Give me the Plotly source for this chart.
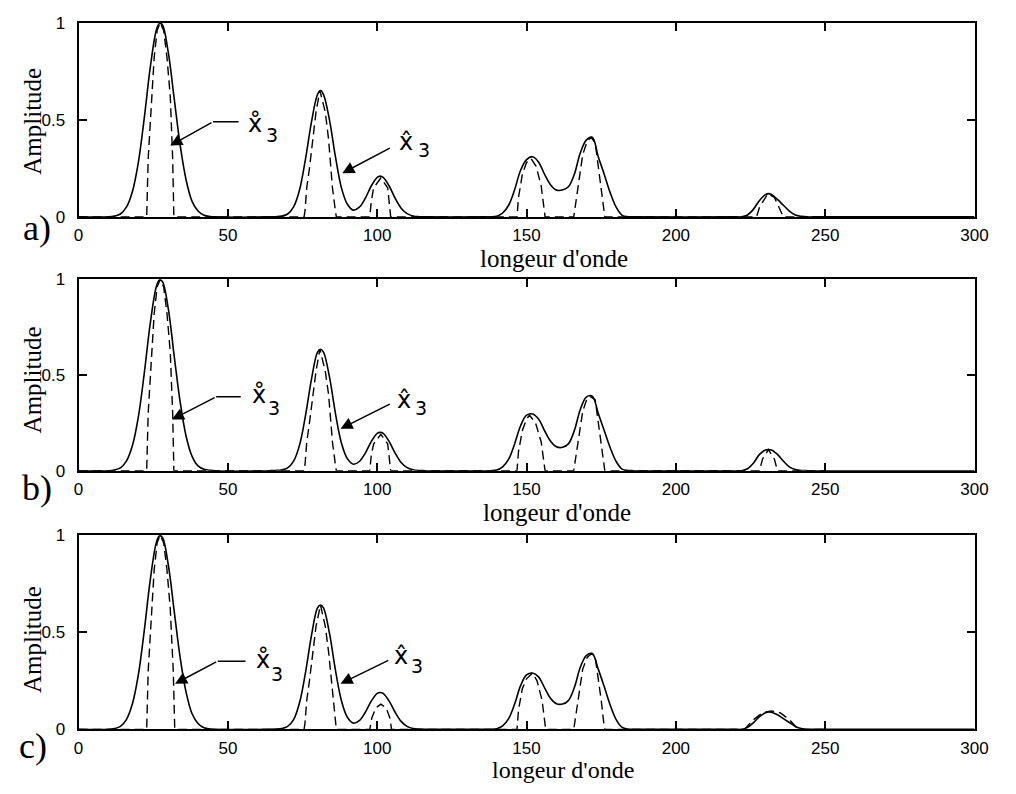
import plotly.graph_objects as go

# ---------------- data ----------------
X_SOLID = ([0, 10, 12, 14, 16, 18, 20, 22, 24, 26, 27, 28, 30, 32, 34, 36, 38, 40, 42, 44, 46]
           + [64, 66, 68, 70, 72, 74, 76, 78, 80, 81, 82, 84, 86, 88, 90, 92, 94, 96, 98, 100,
              101, 102, 104, 106, 108, 110, 112, 114, 116]
           + [136, 138, 140, 142, 144, 146, 148, 150, 152, 154, 156, 158, 160, 162, 164, 166,
              168, 170, 172, 174, 176, 178, 180, 182, 184, 186]
           + [220, 222, 224, 226, 228, 230, 231, 232, 234, 236, 238, 240, 242, 244, 246, 300])

SOLID_A = ([0, 0, 0.004, 0.015, 0.05, 0.13, 0.28, 0.51, 0.77, 0.96, 0.995, 0.99, 0.85, 0.61, 0.37,
            0.19, 0.08, 0.03, 0.008, 0.002, 0]
           + [0, 0.001, 0.004, 0.015, 0.052, 0.14, 0.30, 0.49, 0.63, 0.65, 0.63, 0.50, 0.31, 0.15,
              0.065, 0.035, 0.05, 0.096, 0.159, 0.203, 0.21, 0.203, 0.159, 0.096, 0.045, 0.017,
              0.005, 0.001, 0]
           + [0, 0, 0.003, 0.02, 0.06, 0.14, 0.24, 0.295, 0.31, 0.283, 0.22, 0.166, 0.138, 0.138,
              0.155, 0.22, 0.33, 0.395, 0.41, 0.31, 0.22, 0.125, 0.05, 0.008, 0.001, 0]
           + [0, 0, 0.01, 0.04, 0.085, 0.115, 0.12, 0.115, 0.09, 0.06, 0.03, 0.01, 0.003, 0, 0, 0])

SOLID_B = ([0, 0, 0.004, 0.015, 0.05, 0.13, 0.28, 0.51, 0.77, 0.96, 0.995, 0.99, 0.85, 0.60, 0.36,
            0.18, 0.075, 0.025, 0.007, 0.002, 0]
           + [0, 0.001, 0.004, 0.015, 0.05, 0.135, 0.29, 0.48, 0.62, 0.635, 0.62, 0.49, 0.30, 0.145,
              0.063, 0.034, 0.048, 0.092, 0.152, 0.195, 0.2, 0.195, 0.152, 0.092, 0.043, 0.016,
              0.005, 0.001, 0]
           + [0, 0, 0.003, 0.02, 0.06, 0.14, 0.235, 0.29, 0.296, 0.27, 0.21, 0.155, 0.125, 0.122,
              0.14, 0.21, 0.32, 0.385, 0.39, 0.30, 0.21, 0.12, 0.048, 0.008, 0.001, 0]
           + [0, 0, 0.01, 0.04, 0.085, 0.108, 0.11, 0.108, 0.085, 0.05, 0.02, 0.006, 0.001, 0, 0, 0])

SOLID_C = ([0, 0, 0.004, 0.015, 0.05, 0.13, 0.28, 0.51, 0.77, 0.96, 0.995, 0.99, 0.85, 0.61, 0.37,
            0.19, 0.08, 0.03, 0.008, 0.002, 0]
           + [0, 0.001, 0.004, 0.015, 0.05, 0.138, 0.295, 0.485, 0.625, 0.64, 0.625, 0.495, 0.305,
              0.148, 0.062, 0.032, 0.045, 0.088, 0.145, 0.185, 0.19, 0.185, 0.145, 0.088, 0.041,
              0.015, 0.004, 0.001, 0]
           + [0, 0, 0.003, 0.018, 0.055, 0.13, 0.225, 0.28, 0.29, 0.27, 0.215, 0.16, 0.132, 0.13,
              0.148, 0.215, 0.32, 0.38, 0.39, 0.31, 0.22, 0.125, 0.05, 0.01, 0.001, 0]
           + [0, 0, 0.01, 0.035, 0.065, 0.085, 0.09, 0.088, 0.075, 0.055, 0.035, 0.015, 0.004, 0, 0, 0])

X_DASH_A = [0, 22.8, 23.3, 24.5, 25.3, 26.3, 27.3, 28.5, 29.6, 30.7, 31.5, 31.9,
            75.5, 75.8, 76.4, 77.3, 78.4, 79.5, 80.8, 82.6, 83.7, 84.4, 85.0, 86.0, 86.3,
            97.5, 98.0, 98.8, 101.2, 103.5, 104.0, 104.5,
            146.8, 147.3, 148.6, 150.0, 151.5, 153.2, 154.9, 155.8, 156.2,
            165.8, 166.3, 167.6, 168.8, 170.3, 171.6, 173.0, 173.8, 174.9, 175.8, 176.2,
            227.0, 228.0, 230.8, 233.0, 234.5, 236.0, 256]
Y_DASH_A = [0, 0, 0.3, 0.62, 0.82, 0.96, 1.0, 0.96, 0.82, 0.62, 0.3, 0,
            0, 0.03, 0.15, 0.25, 0.40, 0.54, 0.65, 0.54, 0.40, 0.25, 0.15, 0.03, 0,
            0, 0.08, 0.15, 0.2, 0.15, 0.08, 0,
            0, 0.1, 0.22, 0.28, 0.30, 0.26, 0.16, 0.05, 0,
            0, 0.05, 0.18, 0.32, 0.39, 0.41, 0.38, 0.28, 0.15, 0.04, 0,
            0, 0.05, 0.12, 0.1, 0.05, 0, 0]

X_DASH_B = [0, 22.8, 23.3, 24.5, 25.3, 26.3, 27.3, 28.5, 29.6, 30.7, 31.5, 31.9,
            75.5, 75.8, 76.4, 77.3, 78.4, 79.5, 80.8, 82.6, 83.7, 84.4, 85.0, 86.0, 86.3,
            97.5, 98.0, 98.8, 101.2, 103.5, 104.0, 104.5,
            146.8, 147.3, 148.6, 150.0, 151.0, 153.0, 154.9, 155.8, 156.2,
            165.8, 166.3, 167.6, 168.8, 170.3, 171.2, 173.0, 173.8, 174.9, 175.8, 176.2,
            228.0, 229.0, 231.0, 233.0, 234.0, 250]
Y_DASH_B = [0, 0, 0.3, 0.62, 0.82, 0.96, 1.0, 0.96, 0.82, 0.62, 0.3, 0,
            0, 0.03, 0.15, 0.25, 0.40, 0.52, 0.635, 0.52, 0.40, 0.25, 0.15, 0.03, 0,
            0, 0.08, 0.14, 0.19, 0.14, 0.08, 0,
            0, 0.1, 0.21, 0.27, 0.29, 0.25, 0.15, 0.05, 0,
            0, 0.05, 0.18, 0.31, 0.38, 0.39, 0.37, 0.27, 0.15, 0.04, 0,
            0, 0.06, 0.11, 0.06, 0, 0]

X_DASH_C = [0, 22.8, 23.3, 24.5, 25.3, 26.3, 27.3, 28.5, 29.6, 30.7, 31.7, 32.2,
            75.5, 75.8, 76.4, 77.3, 78.4, 79.5, 81.0, 82.6, 83.7, 84.6, 85.4, 86.0, 86.3,
            97.5, 98.2, 99.5, 101.2, 103.0, 104.2, 104.8,
            146.8, 147.3, 148.6, 150.0, 152.0, 153.5, 155.2, 156.0, 156.4,
            165.8, 166.3, 167.6, 168.8, 170.3, 171.8, 173.0, 174.0, 175.0, 175.8, 176.2,
            223.0, 226.0, 229.0, 232.0, 235.0, 238.0, 241.0, 250]
Y_DASH_C = [0, 0, 0.3, 0.62, 0.82, 0.96, 1.0, 0.96, 0.82, 0.62, 0.3, 0,
            0, 0.03, 0.15, 0.25, 0.40, 0.53, 0.64, 0.53, 0.40, 0.25, 0.12, 0.03, 0,
            0, 0.06, 0.11, 0.13, 0.11, 0.06, 0,
            0, 0.1, 0.21, 0.26, 0.29, 0.25, 0.15, 0.05, 0,
            0, 0.05, 0.18, 0.31, 0.37, 0.39, 0.37, 0.27, 0.15, 0.04, 0,
            0, 0.05, 0.085, 0.095, 0.085, 0.05, 0, 0]

X_TICKS = [0, 50, 100, 150, 200, 250, 300]
Y_TICKS = [0, 0.5, 1]
Y_TICKTEXT = ["0", "0.5", "1"]
PANEL_LABELS = ["a)", "b)", "c)"]
XLABEL = "longeur d'onde"
YLABEL = "Amplitude"

# ---------------- layout geometry ----------------
W, H = 1016, 794
XDOM = [75 / W, 988 / W]
PANEL_PX = [(14, 213), (277, 473), (539, 738)]   # (top, bottom) in px

SERIF = "Liberation Serif, Times New Roman, serif"
SANS = "Liberation Sans, Arial, sans-serif"

fig = go.Figure()
solids = [SOLID_A, SOLID_B, SOLID_C]
dashes = [(X_DASH_A, Y_DASH_A), (X_DASH_B, Y_DASH_B), (X_DASH_C, Y_DASH_C)]

for i in range(3):
    ax = "" if i == 0 else str(i + 1)
    fig.add_trace(go.Scatter(x=dashes[i][0], y=dashes[i][1], mode="lines",
                             line=dict(color="black", width=1.4, dash="9px,5px"),
                             xaxis="x" + ax, yaxis="y" + ax, showlegend=False, hoverinfo="skip"))
    fig.add_trace(go.Scatter(x=X_SOLID, y=solids[i], mode="lines", line_shape="spline",
                             line=dict(color="black", width=1.6),
                             xaxis="x" + ax, yaxis="y" + ax, showlegend=False, hoverinfo="skip"))

axis_common = dict(showline=True, linecolor="black", linewidth=2, mirror="ticks",
                   ticks="inside", ticklen=8, tickwidth=1.5, tickcolor="black",
                   showgrid=False, zeroline=False,
                   tickfont=dict(family=SANS, size=17, color="black"))

layout = dict(width=W, height=H, margin=dict(l=0, r=0, t=0, b=0),
              paper_bgcolor="white", plot_bgcolor="white", showlegend=False)
for i, (top, bot) in enumerate(PANEL_PX):
    suf = "" if i == 0 else str(i + 1)
    layout["xaxis" + suf] = dict(domain=XDOM, range=[0, 300], tickvals=X_TICKS,
                                 anchor="y" + suf, ticklabelstandoff=2, **axis_common)
    layout["yaxis" + suf] = dict(domain=[1 - bot / H, 1 - top / H], range=[0, 1],
                                 tickvals=Y_TICKS, ticktext=Y_TICKTEXT,
                                 anchor="x" + suf, ticklabelstandoff=8, **axis_common)
fig.update_layout(**layout)

ann = []
# panel labels, axis titles
LABEL_POS = [(33, 224), (33, 491), (29, 755)]
XT_POS = [(559, 256), (563, 516), (569, 780)]
XT_SIZE = [25, 25, 24]
YT_POS = [(28, 115), (28, 380), (28, 646)]
for i in range(3):
    ann.append(dict(x=LABEL_POS[i][0] / W, y=1 - LABEL_POS[i][1] / H, xref="paper", yref="paper",
                    text=PANEL_LABELS[i], showarrow=False, xanchor="center", yanchor="middle",
                    font=dict(family=SERIF, size=36, color="black")))
    ann.append(dict(x=XT_POS[i][0] / W, y=1 - XT_POS[i][1] / H, xref="paper", yref="paper",
                    text=XLABEL, showarrow=False, xanchor="center", yanchor="middle",
                    font=dict(family=SERIF, size=XT_SIZE[i], color="black")))
    ann.append(dict(x=YT_POS[i][0] / W, y=1 - YT_POS[i][1] / H, xref="paper", yref="paper",
                    text=YLABEL, showarrow=False, textangle=-90, xanchor="center", yanchor="middle",
                    font=dict(family=SERIF, size=25, color="black")))

# arrows and symbol labels (data coords per panel)
RING_ARROWS = [((30.7, 0.367), (45.0, 0.49), 53.6), ((31.25, 0.267), (46.05, 0.386), 54.3),
               ((32.3, 0.235), (46.6, 0.351), 55.9)]
HAT_ARROWS = [((88.3, 0.225), (104.7, 0.358)), ((87.7, 0.219), (104.7, 0.352)),
              ((87.7, 0.235), (104.2, 0.359))]
RING_TEXT = [((59.2, 0.48), (64.9, 0.42)), ((60.5, 0.397), (65.4, 0.33)),
             ((61.6, 0.355), (66.5, 0.283))]
HAT_TEXT = [((109.6, 0.388), (115.7, 0.347)), ((109.1, 0.368), (114.8, 0.33)),
            ((108.0, 0.378), (113.4, 0.325))]

shapes = []
for i in range(3):
    suf = "" if i == 0 else str(i + 1)
    xr, yr = "x" + suf, "y" + suf
    (tx, ty), (sx, sy), hx = RING_ARROWS[i]
    ann.append(dict(x=tx, y=ty, ax=sx, ay=sy, xref=xr, yref=yr, axref=xr, ayref=yr, text="",
                    showarrow=True, arrowhead=2, arrowsize=1.6, arrowwidth=1.5, arrowcolor="black"))
    shapes.append(dict(type="line", x0=sx, y0=sy, x1=hx, y1=sy, xref=xr, yref=yr,
                       line=dict(color="black", width=1.5)))
    (tx, ty), (sx, sy) = HAT_ARROWS[i]
    ann.append(dict(x=tx, y=ty, ax=sx, ay=sy, xref=xr, yref=yr, axref=xr, ayref=yr, text="",
                    showarrow=True, arrowhead=2, arrowsize=1.6, arrowwidth=1.5, arrowcolor="black"))
    for (pos_x, pos_3), sym in ((RING_TEXT[i], "x\u030a"), (HAT_TEXT[i], "x\u0302")):
        ann.append(dict(x=pos_x[0], y=pos_x[1], xref=xr, yref=yr, text=sym, showarrow=False,
                        xanchor="center", yanchor="middle",
                        font=dict(family="DejaVu Sans", size=24, color="black")))
        ann.append(dict(x=pos_3[0], y=pos_3[1], xref=xr, yref=yr, text="3", showarrow=False,
                        xanchor="center", yanchor="middle",
                        font=dict(family="DejaVu Sans", size=19, color="black")))

fig.update_layout(annotations=ann, shapes=shapes)
fig.write_html("out.html")
